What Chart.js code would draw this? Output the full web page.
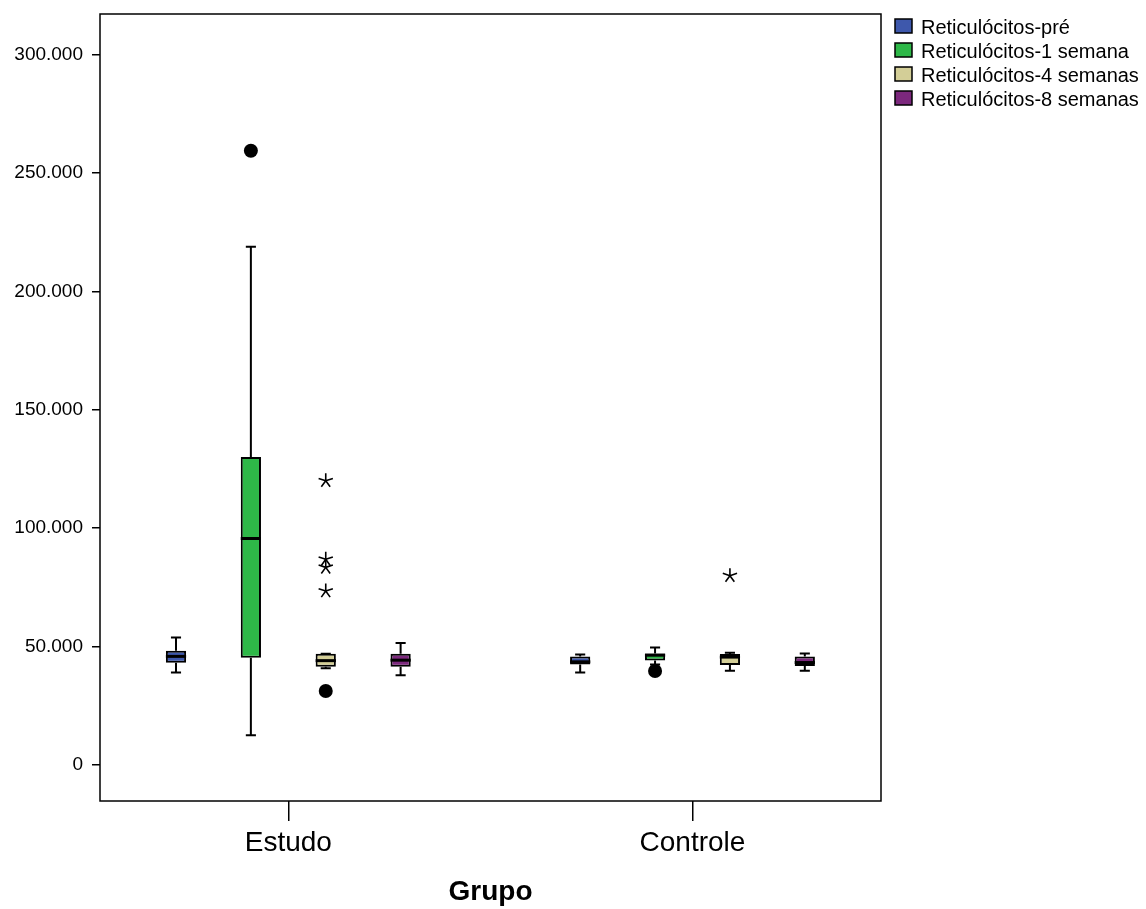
<!DOCTYPE html>
<html>

<head>
    <meta charset="utf-8">
    <title>Reticulócitos por grupo</title>
    <script src="https://cdn.jsdelivr.net/npm/chart.js"></script>
    <style>
        body {
            margin: 0;
            background: #fff;
        }

        .chart-container {
            position: relative;
            width: 1146px;
            height: 909px;
        }
    </style>
</head>

<body>
    <div class="chart-container">
        <canvas id="boxChart"></canvas>
    </div>

    <script>
        // categories on the x axis
        const groups = ["Estudo", "Controle"];
        const seriesNames = ["Reticulócitos-pré", "Reticulócitos-1 semana", "Reticulócitos-4 semanas", "Reticulócitos-8 semanas"];
        const seriesColors = ["#3E58AC", "#2EB848", "#D3CE97", "#7C287D"];

        // one row per series, one value per group (Estudo, Controle)
        const whiskerLow = [[39000, 39000], [12500, 42400], [40800, 39700], [37800, 39700]];
        const q1 = [[43100, 42400], [45200, 44100], [41400, 42200], [41400, 41700]];
        const medians = [[45800, 43500], [95600, 46300], [44000, 45500], [44200, 43200]];
        const q3 = [[48200, 45800], [130000, 47000], [46900, 46800], [46900, 45800]];
        const whiskerHigh = [[53800, 46600], [218900, 49600], [46900, 47300], [51500, 47000]];

        // circles (outliers) and asterisks (extremes)
        const outliers = [[[], []], [[259400], [39600]], [[31200], []], [[], []]];
        const extremes = [[[], []], [[], []], [[120000, 86800, 83400, 73400], [79900]], [[], []]];

        const yTicks = [0, 50000, 100000, 150000, 200000, 250000, 300000];

        Chart.defaults.font.family = '"Liberation Sans", Arial, sans-serif';
        Chart.defaults.color = "#000";

        function formatPt(v) {
            return String(v).replace(/\B(?=(\d{3})+(?!\d))/g, ".");
        }

        // whiskers, medians, outliers on top of the floating bars
        const boxDetails = {
            id: "boxDetails",
            afterDatasetsDraw(chart) {
                const ctx = chart.ctx;
                const y = chart.scales.y;
                ctx.save();
                ctx.strokeStyle = "#000";
                ctx.fillStyle = "#000";
                chart.data.datasets.forEach((ds, d) => {
                    const meta = chart.getDatasetMeta(d);
                    meta.data.forEach((bar, g) => {
                        const x = bar.x;
                        const half = bar.width / 2;
                        const cap = half / 2;
                        const yLo = y.getPixelForValue(whiskerLow[d][g]);
                        const yQ1 = y.getPixelForValue(q1[d][g]);
                        const yQ3 = y.getPixelForValue(q3[d][g]);
                        const yHi = y.getPixelForValue(whiskerHigh[d][g]);
                        const yMed = y.getPixelForValue(medians[d][g]);

                        ctx.lineWidth = 2;
                        ctx.beginPath();
                        ctx.moveTo(x, yQ3); ctx.lineTo(x, yHi);
                        ctx.moveTo(x - cap, yHi); ctx.lineTo(x + cap, yHi);
                        ctx.moveTo(x, yQ1); ctx.lineTo(x, yLo);
                        ctx.moveTo(x - cap, yLo); ctx.lineTo(x + cap, yLo);
                        ctx.stroke();

                        ctx.lineWidth = 3;
                        ctx.beginPath();
                        ctx.moveTo(x - half, yMed); ctx.lineTo(x + half, yMed);
                        ctx.stroke();

                        outliers[d][g].forEach(v => {
                            ctx.beginPath();
                            ctx.arc(x, y.getPixelForValue(v), 7, 0, Math.PI * 2);
                            ctx.fill();
                        });

                        ctx.lineWidth = 1.6;
                        extremes[d][g].forEach(v => {
                            const py = y.getPixelForValue(v);
                            ctx.beginPath();
                            for (let k = 0; k < 5; k++) {
                                const a = -Math.PI / 2 + k * 2 * Math.PI / 5;
                                ctx.moveTo(x, py);
                                ctx.lineTo(x + 7.5 * Math.cos(a), py + 7.5 * Math.sin(a));
                            }
                            ctx.stroke();
                        });
                    });
                });
                ctx.restore();
            },
            afterDraw(chart) {
                const ctx = chart.ctx;
                const area = chart.chartArea;
                ctx.save();
                // frame round the plot
                ctx.strokeStyle = "#000";
                ctx.lineWidth = 1.5;
                ctx.strokeRect(area.left, area.top, area.right - area.left, area.bottom - area.top);

                // legend to the right of the frame
                ctx.font = '20px "Liberation Sans", Arial, sans-serif';
                ctx.textBaseline = "middle";
                const lx = area.right + 14;
                seriesNames.forEach((name, i) => {
                    const ly = area.top + 13 + i * 24;
                    ctx.fillStyle = seriesColors[i];
                    ctx.fillRect(lx, ly - 8, 17, 14);
                    ctx.lineWidth = 1.5;
                    ctx.strokeRect(lx, ly - 8, 17, 14);
                    ctx.fillStyle = "#000";
                    ctx.fillText(name, lx + 26, ly + 1);
                });
                ctx.restore();
            }
        };

        const datasets = seriesNames.map((name, d) => ({
            label: name,
            data: groups.map((g, i) => ({ x: i, y: [q1[d][i], q3[d][i]] })),
            backgroundColor: seriesColors[d],
            borderColor: "#000",
            borderWidth: 2,
            borderSkipped: false,
            categoryPercentage: 0.741,
            barPercentage: 0.27
        }));

        const ctx = document.getElementById("boxChart").getContext("2d");
        new Chart(ctx, {
            type: "bar",
            data: { datasets: datasets },
            options: {
                responsive: true,
                maintainAspectRatio: false,
                animation: false,
                layout: { padding: { top: 14, right: 265, left: 0, bottom: 0 } },
                plugins: {
                    legend: { display: false },
                    tooltip: { enabled: false }
                },
                scales: {
                    x: {
                        type: "linear",
                        offset: false,
                        min: -0.4659,
                        max: 1.4664,
                        afterBuildTicks: s => { s.ticks = groups.map((g, i) => ({ value: i })); },
                        afterFit: s => { s.height = 108; s.paddingLeft = 0; s.paddingRight = 0; },
                        ticks: {
                            callback: v => groups[v],
                            font: { size: 28 },
                            padding: 5,
                            maxRotation: 0
                        },
                        grid: { drawOnChartArea: false, offset: false, tickLength: 20, color: "#000", lineWidth: 1.5 },
                        border: { display: false },
                        title: {
                            display: true,
                            text: "Grupo",
                            font: { size: 28, weight: "bold" },
                            padding: { top: 0, bottom: 0 }
                        }
                    },
                    y: {
                        min: -15300,
                        max: 317200,
                        afterBuildTicks: s => { s.ticks = yTicks.map(v => ({ value: v })); },
                        afterFit: s => { s.width = 100; s.paddingTop = 0; s.paddingBottom = 0; },
                        ticks: {
                            callback: v => formatPt(v),
                            font: { size: 19 },
                            padding: 9
                        },
                        grid: { drawOnChartArea: false, tickLength: 8, color: "#000", lineWidth: 1.5 },
                        border: { display: false }
                    }
                }
            },
            plugins: [boxDetails]
        });
    </script>
</body>

</html>
